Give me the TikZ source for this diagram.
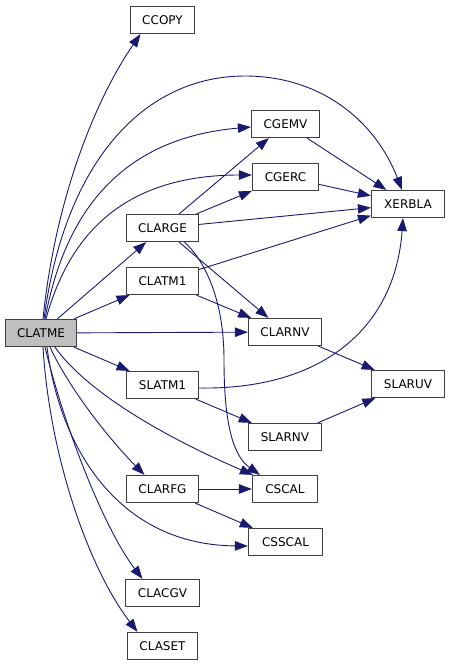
\documentclass[tikz,border=0pt]{standalone}
\usepackage{fontspec}
\setmainfont{DejaVu Sans}
\usetikzlibrary{arrows.meta,backgrounds}
\definecolor{edgeblue}{HTML}{191970}
\definecolor{boxgray}{HTML}{BFBFBF}
\definecolor{boxline}{HTML}{404040}
\begin{document}
\begin{tikzpicture}[x=1pt,y=-1pt,
  fn/.style={draw=boxline, line width=1.2pt, fill=white, minimum height=27pt,
    inner sep=0pt, font=\fontsize{12}{14}\selectfont},
  call/.style={draw=edgeblue, line width=0.9pt,
    -{Triangle[length=13pt,width=9.5pt]}}]
\useasboundingbox (0,0) rectangle (451,667);
\node[fn, minimum width=64pt] (CCOPY) at (162.5,20) {CCOPY};
\node[fn, minimum width=68pt] (CGEMV) at (285.5,124) {CGEMV};
\node[fn, minimum width=66pt] (CGERC) at (285.5,177) {CGERC};
\node[fn, minimum width=73pt] (XERBLA) at (408,204) {XERBLA};
\node[fn, minimum width=72pt] (CLARGE) at (162.5,228) {CLARGE};
\node[fn, minimum width=72pt] (CLATM1) at (162.5,281) {CLATM1};
\node[fn, minimum width=71pt, fill=boxgray] (CLATME) at (41,333) {CLATME};
\node[fn, minimum width=73pt] (CLARNV) at (285,332) {CLARNV};
\node[fn, minimum width=73pt] (SLARUV) at (408,384) {SLARUV};
\node[fn, minimum width=72pt] (SLATM1) at (162.5,385) {SLATM1};
\node[fn, minimum width=73pt] (SLARNV) at (285,437) {SLARNV};
\node[fn, minimum width=72pt] (CLARFG) at (162.5,489) {CLARFG};
\node[fn, minimum width=65pt] (CSCAL) at (285,489) {CSCAL};
\node[fn, minimum width=74pt] (CSSCAL) at (285.5,542) {CSSCAL};
\node[fn, minimum width=74pt] (CLACGV) at (162.5,593) {CLACGV};
\node[fn, minimum width=70pt] (CLASET) at (162.5,646) {CLASET};
\begin{pgfonlayer}{background}
% CLATME calls
\draw[call] ([xshift=2pt]CLATME.north) .. controls (55,200) and (95,100) .. ([xshift=-22pt]CCOPY.south);
\draw[call] ([xshift=3pt]CLATME.north) .. controls (65,160) and (145,76) .. (245,76)
  .. controls (320,76) and (375,120) .. ([xshift=-6pt]XERBLA.north);
\draw[call] ([xshift=4pt]CLATME.north) .. controls (60,240) and (100,140) .. ([yshift=-3pt]CGEMV.west);
\draw[call] ([xshift=5pt]CLATME.north) .. controls (65,250) and (110,175) .. ([yshift=2pt]CGERC.west);
\draw[call] (CLATME) -- (CLARGE);
\draw[call] (CLATME) -- (CLATM1);
\draw[call] (CLATME) -- (CLARNV);
\draw[call] (CLATME) -- (SLATM1);
\draw[call] ([xshift=14pt]CLATME.south) .. controls (85,390) and (160,435) .. ([xshift=1pt]CSCAL.north west);
\draw[call] ([xshift=9pt]CLATME.south) .. controls (70,390) and (110,440) .. ([xshift=-18pt]CLARFG.north);
\draw[call] ([xshift=6pt]CLATME.south) .. controls (60,450) and (120,545) .. ([yshift=-4pt]CSSCAL.west);
\draw[call] ([xshift=4pt]CLATME.south) .. controls (65,430) and (105,530) .. ([xshift=-20pt]CLACGV.north);
\draw[call] ([xshift=2pt]CLATME.south) .. controls (50,460) and (90,570) .. ([xshift=-25pt]CLASET.north);
% CLARGE calls
\draw[call] (CLARGE) -- (CGEMV);
\draw[call] (CLARGE) -- (CGERC);
\draw[call] (CLARGE) -- (XERBLA);
\draw[call] (CLARGE) -- (CLARNV);
\draw[call] ([xshift=22pt]CLARGE.south) .. controls (202,258) and (224,295) .. (224,360)
  .. controls (224,420) and (232,455) .. ([xshift=8pt]CSCAL.north west);
% others
\draw[call] (CGEMV) -- (XERBLA);
\draw[call] (CGERC) -- (XERBLA);
\draw[call] (CLATM1) -- (XERBLA);
\draw[call] (CLATM1) -- (CLARNV);
\draw[call] (CLARNV) -- (SLARUV);
\draw[call] ([yshift=-3pt]SLATM1.east) .. controls (320,390) and (395,330) .. ([xshift=-5pt]XERBLA.south);
\draw[call] (SLATM1) -- (SLARNV);
\draw[call] (SLARNV) -- (SLARUV);
\draw[call] (CLARFG) -- (CSCAL);
\draw[call] (CLARFG) -- (CSSCAL);
\end{pgfonlayer}
\end{tikzpicture}
\end{document}
